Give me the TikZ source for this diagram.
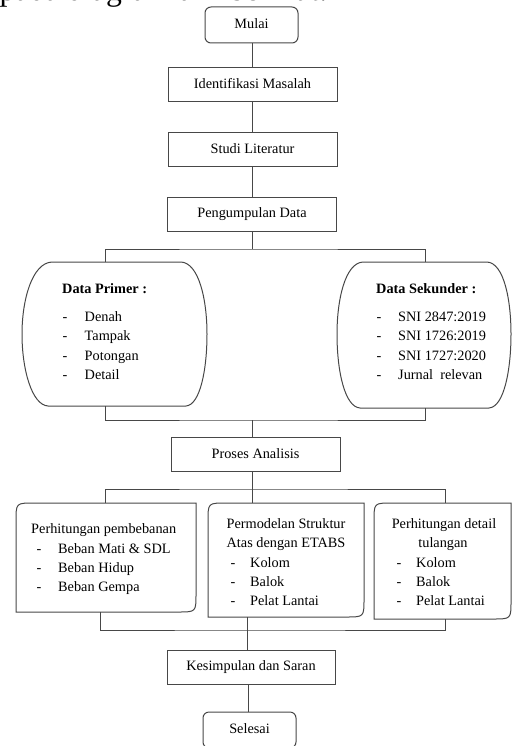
\documentclass[tikz,border=0pt]{standalone}
\usepackage{fontspec}
\setmainfont{Liberation Serif}
\begin{document}
\begin{tikzpicture}[x=1pt,y=-1pt,
  every node/.style={font=\fontsize{14.3}{19}\selectfont, inner sep=0pt},
  ln/.style={draw=black!72, line width=1pt},
  procbox/.style={draw=black!72, line width=1pt, rectangle, minimum width=169pt, minimum height=34pt, text height=10pt, text depth=3pt},
  termbox/.style={procbox, rounded corners=6pt, minimum width=93pt, minimum height=36pt},
  txt/.style={anchor=base west},
  ctxt/.style={anchor=base}
]
\useasboundingbox (0,0) rectangle (512,746);

% cropped heading text at top
\node[anchor=base west, font=\fontsize{31.7}{38}\selectfont] (intro) at (-0.5,1) {pada diagram alir berikut.};

% main column
\node[termbox] (mulai) at (251.5,25) {Mulai};
\node[procbox] (ident) at (252.5,85) {Identifikasi Masalah};
\node[procbox] (studi) at (252.5,150) {Studi Literatur};
\node[procbox] (kumpul) at (252,214) {Pengumpulan Data};
\node[procbox] (proses) at (255.5,454.5) {Proses Analisis};
\node[procbox, minimum width=168pt] (kes) at (251,667) {Kesimpulan dan Saran};
\node[termbox] (sel) at (249.5,730) {Selesai};

% Data Primer barrel
\draw[ln] (52,262) -- (181,262) .. controls (199,263) and (207,300) .. (207,334)
  .. controls (207,370) and (200,405) .. (186,406) -- (48,406)
  .. controls (32,405) and (22,370) .. (22,334)
  .. controls (22,300) and (32,263) .. (52,262) -- cycle;
% Data Sekunder barrel
\draw[ln] (363,262) -- (487,262) .. controls (504,263) and (511,300) .. (511,334)
  .. controls (511,370) and (504,407) .. (489,408) -- (360,408)
  .. controls (345,407) and (337,372) .. (337,334)
  .. controls (337,300) and (345,263) .. (363,262) -- cycle;

\node[txt, font=\fontsize{14.3}{19}\selectfont\bfseries] (dpt) at (62,293) {Data Primer :};
\node[txt] (dp1) at (62.5,321) {\makebox[22pt][l]{-}Denah};
\node[txt] (dp2) at (62.5,340) {\makebox[22pt][l]{-}Tampak};
\node[txt] (dp3) at (62.5,360) {\makebox[22pt][l]{-}Potongan};
\node[txt] (dp4) at (62.5,379) {\makebox[22pt][l]{-}Detail};

\node[txt, font=\fontsize{14.3}{19}\selectfont\bfseries] (dst) at (376,293) {Data Sekunder :};
\node[txt] (ds1) at (376.5,321) {\makebox[21.5pt][l]{-}SNI 2847:2019};
\node[txt] (ds2) at (376.5,340) {\makebox[21.5pt][l]{-}SNI 1726:2019};
\node[txt] (ds3) at (376.5,360) {\makebox[21.5pt][l]{-}SNI 1727:2020};
\node[txt] (ds4) at (376.5,379) {\makebox[21.5pt][l]{-}Jurnal\ \ relevan};

% bottom three boxes (rounded top-left and bottom-right)
\draw[ln] (16,612) -- (16,521) .. controls (16,503) .. (34,503) -- (196,503)
  -- (196,594) .. controls (196,612) .. (178,612) -- cycle;
\draw[ln] (208,617) -- (208,521) .. controls (208,503) .. (226,503) -- (364,503)
  -- (364,599) .. controls (364,617) .. (346,617) -- cycle;
\draw[ln] (374,619) -- (374,521) .. controls (374,503) .. (392,503) -- (511,503)
  -- (511,601) .. controls (511,619) .. (493,619) -- cycle;

\node[txt] (b1t) at (31,533) {Perhitungan pembebanan};
\node[txt] (b11) at (36.5,553) {\makebox[21.5pt][l]{-}Beban Mati \& SDL};
\node[txt] (b12) at (36.5,572) {\makebox[21.5pt][l]{-}Beban Hidup};
\node[txt] (b13) at (36.5,591) {\makebox[21.5pt][l]{-}Beban Gempa};

\node[ctxt] (b2t) at (286,528) {Permodelan Struktur};
\node[ctxt] (b2u) at (286,547) {Atas dengan ETABS};
\node[txt] (b21) at (230.5,567) {\makebox[19.5pt][l]{-}Kolom};
\node[txt] (b22) at (230.5,586) {\makebox[19.5pt][l]{-}Balok};
\node[txt] (b23) at (230.5,605) {\makebox[19.5pt][l]{-}Pelat Lantai};

\node[ctxt] (b3t) at (444,528) {Perhitungan detail};
\node[ctxt] (b3u) at (443,547) {tulangan};
\node[txt] (b31) at (396.5,567) {\makebox[19.5pt][l]{-}Kolom};
\node[txt] (b32) at (396.5,586) {\makebox[19.5pt][l]{-}Balok};
\node[txt] (b33) at (396.5,605) {\makebox[19.5pt][l]{-}Pelat Lantai};

% connector coordinates
\coordinate (dpT) at (105,262);
\coordinate (dsT) at (425,262);
\coordinate (dpB) at (105,406);
\coordinate (dsB) at (425,408);
\coordinate (j1) at (252,249);
\coordinate (j2) at (252,420);
\coordinate (j3) at (252,489);
\coordinate (b1T) at (105,503);
\coordinate (b2T) at (252,503);
\coordinate (b3T) at (445,503);
\coordinate (b1B) at (100,612);
\coordinate (b2B) at (247.5,617);
\coordinate (b3B) at (445,619);
\coordinate (j4) at (247.5,630);

% connectors
\draw[ln] (mulai.south -| 252,0) -- (ident.north -| 252,0);
\draw[ln] (ident.south -| 252,0) -- (studi.north -| 252,0);
\draw[ln] (studi.south -| 252,0) -- (kumpul.north -| 252,0);
\draw[ln] (kumpul.south -| j1) -- (j1);
\draw[ln] (dpT) |- (j1) -| (dsT);
\draw[ln] (dpB) |- (j2) -| (dsB);
\draw[ln] (j2) -- (proses.north -| j2);
\draw[ln] (proses.south -| j3) -- (j3);
\draw[ln] (b1T) |- (j3) -| (b3T);
\draw[ln] (j3) -- (b2T);
\draw[ln] (b1B) |- (j4) -| (b3B);
\draw[ln] (b2B) -- (kes.north -| b2B);
\draw[ln] (kes.south -| 248,0) -- (sel.north -| 248,0);
\end{tikzpicture}
\end{document}
